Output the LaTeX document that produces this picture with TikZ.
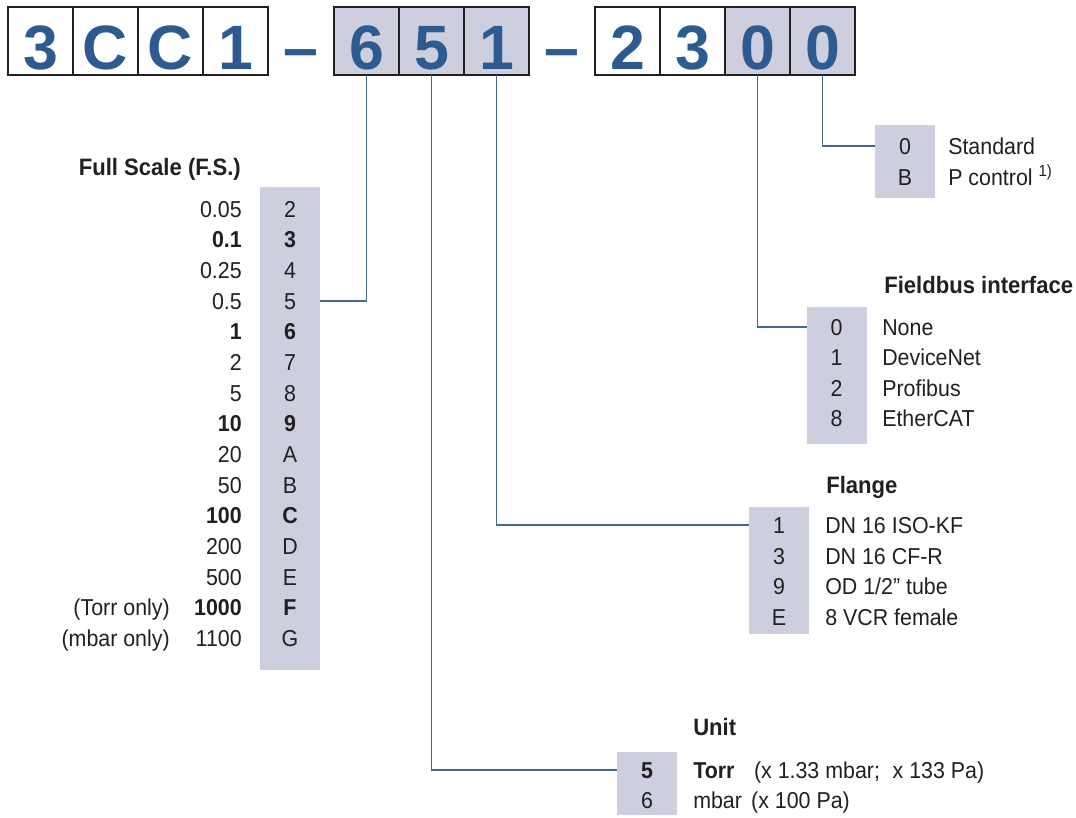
\documentclass[tikz,border=0pt]{standalone}
\usepackage{fontspec}
\setmainfont{Liberation Sans}[FakeStretch=0.93]
\newfontfamily\codefont{Liberation Sans}
\usetikzlibrary{positioning}

\definecolor{codeblue}{RGB}{46,91,143}
\definecolor{leadblue}{RGB}{66,104,153}
\definecolor{keygray}{RGB}{205,207,223}
\definecolor{inkgray}{RGB}{35,31,32}
\newcommand{\listfont}{\fontsize{17.25}{23}\selectfont}
\newcommand{\titlefont}{\fontsize{17.8}{23}\selectfont\bfseries}

\tikzset{
  codebox/.style={draw=inkgray, line width=2.2pt, minimum width=48.75pt, minimum height=51pt,
    inner sep=0pt, outer sep=0pt, font=\codefont\fontsize{47}{47}\selectfont\bfseries,
    text=codeblue, text height=42pt, text depth=0pt},
  codesel/.style={codebox, fill=keygray},
  codedash/.style={codebox, draw=none, minimum width=49.5pt},
  keybox/.style={fill=keygray, minimum width=45pt, inner sep=0pt},
  keydigit/.style={minimum width=45pt, inner sep=0pt, outer sep=0pt, font=\listfont,
    text=inkgray, text height=12.4pt, text depth=0pt},
  keytext/.style={anchor=west, inner sep=0pt, font=\listfont, text=inkgray,
    text height=12.4pt, text depth=0pt},
  keytitle/.style={keytext, font=\titlefont},
  lead/.style={draw=leadblue, line width=1pt}
}

\begin{document}
\begin{tikzpicture}[x=0.75pt,y=-0.75pt]
\useasboundingbox (0,0) rectangle (1076,818);
% order code
\node[codebox] (n1) at (40.5,41) {3};
\node[codebox, right=0pt of n1] (n2) {C};
\node[codebox, right=0pt of n2] (n3) {C};
\node[codebox, right=0pt of n3] (n4) {1};
\node[codedash, right=0pt of n4] (d1) {–};
\node[codesel, right=0pt of d1] (n5) {6};
\node[codesel, right=0pt of n5] (n6) {5};
\node[codesel, right=0pt of n6] (n7) {1};
\node[codedash, right=0pt of n7] (d2) {–};
\node[codebox, right=0pt of d2] (n8) {2};
\node[codebox, right=0pt of n8] (n9) {3};
\node[codesel, right=0pt of n9] (n10) {0};
\node[codesel, right=0pt of n10] (n11) {0};

% full scale
\node[keybox, minimum height=362.25pt] (fsbox) at (290,428.5) {};
\node[keytitle, anchor=east] (fstitle) at (241,167) {Full Scale (F.S.)};
\foreach \val/\key [count=\i] in {0.05/2, \textbf{0.1}/\textbf{3}, 0.25/4, 0.5/5,
    \textbf{1}/\textbf{6}, 2/7, 5/8, \textbf{10}/\textbf{9}, 20/A, 50/B,
    \textbf{100}/\textbf{C}, 200/D, 500/E, \textbf{1000}/\textbf{F}, 1100/G}{
  \node[keydigit] (fs\i) at (290,{209+30.65*(\i-1)}) {\key};
  \node[keytext, anchor=east] (fv\i) at (242,{209+30.65*(\i-1)}) {\val};
}
\node[keytext, anchor=east] (torronly) at (170,0 |- fs14) {(Torr only)};
\node[keytext, anchor=east] (mbaronly) at (170,0 |- fs15) {(mbar only)};

% standard / P control
\node[keybox, minimum height=54.75pt] (sdbox) at (905,161) {};
\node[keydigit] (sd0) at (905,146) {0};
\node[keydigit] (sdB) at (905,177) {B};
\node[keytext] (sdt0) at (948,146) {Standard};
\node[keytext] (sdtB) at (948,177) {P control \textsuperscript{1)}};

% fieldbus
\node[keybox, minimum height=102.75pt] (fbbox) at (836.5,375.5) {};
\node[keytitle] (fbtitle) at (884,285) {Fieldbus interface};
\foreach \key/\txt [count=\i from 0] in {0/None, 1/DeviceNet, 2/Profibus, 8/EtherCAT}{
  \node[keydigit] (fb\key) at (836.5,{327+30.4*\i}) {\key};
  \node[keytext] (fbt\key) at (882,{327+30.4*\i}) {\txt};
}

% flange
\node[keybox, minimum height=95.25pt] (flbox) at (779,570.5) {};
\node[keytitle] (fltitle) at (826,485) {Flange};
\foreach \key/\txt [count=\i from 0] in {1/DN 16 ISO-KF, 3/DN 16 CF-R, 9/{OD 1/2” tube}, E/8 VCR female}{
  \node[keydigit] (fl\key) at (779,{525+30.8*\i}) {\key};
  \node[keytext] (flt\key) at (825,{525+30.8*\i}) {\txt};
}

% unit
\node[keybox, minimum height=47.25pt] (unbox) at (647,783.5) {};
\node[keytitle] (untitle) at (693,727) {Unit};
\node[keydigit] (un5) at (647,770) {\textbf{5}};
\node[keydigit] (un6) at (647,800) {6};
\node[keytext] (unt5) at (693,770) {\textbf{Torr}\hspace{0.85em}(x 1.33 mbar;\hspace{0.55em}x 133 Pa)};
\node[keytext] (unt6) at (693,800) {mbar\hspace{0.4em}(x 100 Pa)};

% leads
\draw[lead] (n5.south) |- (fs4.east);
\draw[lead] (n6.south) |- (un5.west);
\draw[lead] (n7.south) |- (fl1.west);
\draw[lead] (n10.south) |- (fb0.west);
\draw[lead] (n11.south) |- (sd0.west);
\end{tikzpicture}
\end{document}
